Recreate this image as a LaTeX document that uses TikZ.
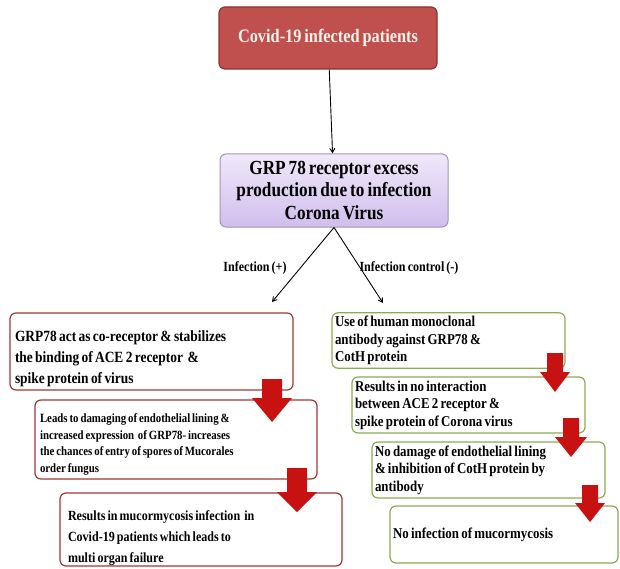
\documentclass[tikz,border=0pt]{standalone}
\usepackage{fontspec}
\setmainfont{Liberation Serif}[FakeStretch=0.86, WordSpace=0.7]
\usepackage{tikz}
\usetikzlibrary{arrows}
\definecolor{topfill}{RGB}{192,80,77}
\definecolor{topedge}{RGB}{140,50,48}
\definecolor{topfont}{RGB}{252,242,236}
\definecolor{grptop}{RGB}{240,232,250}
\definecolor{grpbottom}{RGB}{208,190,236}
\definecolor{grpedge}{RGB}{165,145,195}
\definecolor{posedge}{RGB}{160,55,55}
\definecolor{negedge}{RGB}{140,172,82}
\definecolor{blockred}{RGB}{200,18,18}
\tikzstyle{topbox} = [rectangle, draw=topedge, fill=topfill, line width=1.2pt,
text=topfont, rounded corners=6pt, minimum width=218pt, minimum height=62pt,
font=\bfseries\fontsize{19}{22}\selectfont]
\tikzstyle{grpbox} = [rectangle, draw=grpedge, top color=grptop, bottom color=grpbottom,
line width=1pt, rounded corners=6pt, align=center, minimum width=228pt, minimum height=73pt,
inner sep=2pt, font=\bfseries\fontsize{20}{22.5}\selectfont]
\tikzstyle{posbox} = [rectangle, draw=posedge, fill=white, line width=1.2pt,
rounded corners=6pt, align=flush left, inner xsep=5pt, inner ysep=0pt]
\tikzstyle{negbox} = [rectangle, draw=negedge, fill=white, line width=1.2pt,
rounded corners=6pt, align=flush left, inner xsep=3pt, text width=227pt, minimum height=55pt,
font=\bfseries\fontsize{15}{17.5}\selectfont]
\tikzstyle{branch} = [font=\bfseries\fontsize{14}{16}\selectfont]
\tikzstyle{line} = [draw, line width=0.9pt, -angle 60]
\tikzstyle{redarrow} = [fill=blockred]
\newcommand{\redarrow}[6]{\fill[redarrow] (#1-#5,#2) -- (#1+#5,#2) -- (#1+#5,#3) -- (#1+#6,#3)
 -- (#1,#4) -- (#1-#6,#3) -- (#1-#5,#3) -- cycle;}

\begin{document}
\begin{tikzpicture}[x=1pt,y=-1pt]
	\useasboundingbox (0,0) rectangle (620,569);
	\node [topbox] at (328,38) (Covid) {Covid-19 infected patients};
	\node [grpbox] at (334,190.5) (GRP) {GRP 78 receptor excess\\ production due to infection\\ Corona Virus};
	\coordinate (plusend) at (272,302);
	\coordinate (minusend) at (383,303);
	\path [line] (Covid) -- (GRP);
	\path [line] (GRP.south) -- (plusend);
	\path [line] (GRP.south) -- (minusend);
	\node [branch] at (255,268) (plus) {Infection (+)};
	\node [branch] at (409,268) (minus) {Infection control (-)};
	\node [posbox, text width=273pt, minimum height=77pt, font=\bfseries\fontsize{15.6}{21}\selectfont] at (151.5,351.5) (coreceptor) {\rule{0pt}{26pt}GRP78 act as co-receptor \& stabilizes\\ the binding of ACE 2 receptor \ \&\\ spike protein of virus};
	\node [posbox, text width=272pt, minimum height=79pt, font=\bfseries\fontsize{12.6}{16.5}\selectfont] at (176,439.5) (damage) {\rule{0pt}{19pt}Leads to damaging of endothelial lining \&\\ increased expression \ of GRP78- increases\\ the chances of entry of spores of Mucorales\\ order fungus};
	\node [posbox, inner xsep=8pt, text width=266pt, minimum height=73pt, font=\bfseries\fontsize{14}{21}\selectfont] at (201,529.5) (mucor) {\rule{0pt}{26.5pt}Results in mucormycosis infection \ in\\ Covid-19 patients which leads to\\ multi organ failure};
	\node [negbox] at (448.5,340.5) (antibody) {Use of human monoclonal\\ antibody against GRP78 \&\\ CotH protein};
	\node [negbox, minimum height=56pt] at (468.5,405) (nointeract) {Results in no interaction\\ between ACE 2 receptor \&\\ spike protein of Corona virus};
	\node [negbox, minimum height=56pt] at (488.5,470) (nodamage) {No damage of endothelial lining\\ \& inhibition of CotH protein by\\ antibody};
	\node [negbox, text width=222pt, minimum height=57pt] at (504,534.5) (noinfect) {No infection of mucormycosis};
	\redarrow{272}{379}{398}{422}{10}{20}
	\redarrow{297}{468}{492}{512}{10}{20}
	\redarrow{555}{353}{372}{392}{8}{15}
	\redarrow{571}{418}{437}{457}{8}{16}
	\redarrow{590}{485}{503}{522}{8}{15}
\end{tikzpicture}
\end{document}
